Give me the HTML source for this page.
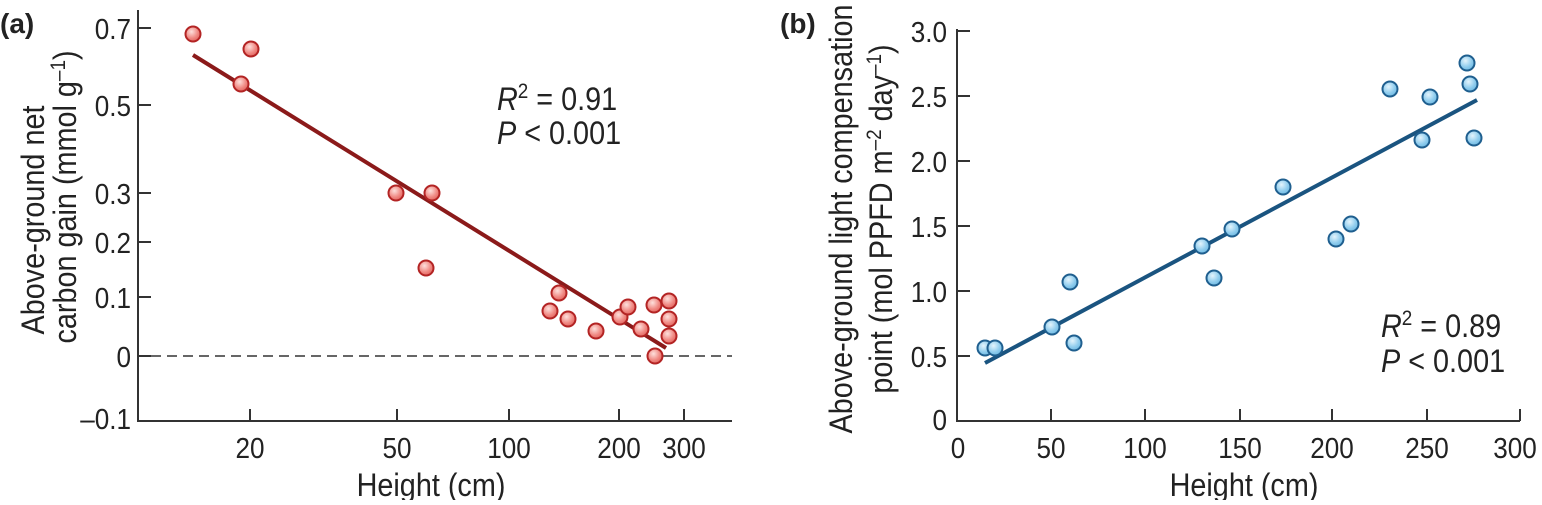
<!DOCTYPE html>
<html><head><meta charset="utf-8"><style>
html,body{margin:0;padding:0;background:#fff;}
svg text{font-family:"Liberation Sans",Arial,sans-serif;fill:#222;}
</style></head><body>
<svg width="1542" height="500" viewBox="0 0 1542 500" xmlns="http://www.w3.org/2000/svg">
<defs>
<radialGradient id="rg" cx="0.4" cy="0.35" r="0.7"><stop offset="0" stop-color="#fde0dc"/><stop offset="0.6" stop-color="#f08a84"/><stop offset="1" stop-color="#e0605a"/></radialGradient>
<radialGradient id="bg" cx="0.4" cy="0.35" r="0.7"><stop offset="0" stop-color="#e4f4fc"/><stop offset="0.6" stop-color="#90cdee"/><stop offset="1" stop-color="#6ab6e0"/></radialGradient>
</defs>
<!-- Panel a -->
<text x="0" y="33" font-size="28" font-weight="bold">(a)</text>
<g stroke="#333" stroke-width="2" fill="none">
<path d="M138 10 V421 H732"/>
<path d="M138 28 H151 M138 105 H151 M138 193 H151 M138 242 H151 M138 297 H151 M138 356 H151"/>
<path d="M250 421 V409 M397 421 V409 M509 421 V409 M619 421 V409 M684 421 V409"/>
</g>
<line x1="151" y1="356" x2="732" y2="356" stroke="#333" stroke-width="1.5" stroke-dasharray="10,6"/>
<g font-size="29" text-anchor="end">
<text transform="translate(131,39) scale(0.9,1)">0.7</text>
<text transform="translate(131,116) scale(0.9,1)">0.5</text>
<text transform="translate(131,204) scale(0.9,1)">0.3</text>
<text transform="translate(131,253) scale(0.9,1)">0.2</text>
<text transform="translate(131,308) scale(0.9,1)">0.1</text>
<text transform="translate(131,367) scale(0.9,1)">0</text>
<text transform="translate(131,429) scale(0.9,1)">–0.1</text>
</g>
<g font-size="29" text-anchor="middle">
<text transform="translate(250,458) scale(0.9,1)">20</text>
<text transform="translate(397,458) scale(0.9,1)">50</text>
<text transform="translate(509,458) scale(0.9,1)">100</text>
<text transform="translate(619,458) scale(0.9,1)">200</text>
<text transform="translate(684,458) scale(0.9,1)">300</text>
</g>
<text font-size="32" text-anchor="middle" transform="translate(431,496) scale(0.9,1)">Height (cm)</text>
<g font-size="32" text-anchor="middle">
<text transform="translate(44,220) rotate(-90) scale(0.9,1)">Above-ground net</text>
<text transform="translate(76,197) rotate(-90) scale(0.9,1)">carbon gain (mmol g<tspan dy="-11" font-size="21">–1</tspan><tspan dy="11">)</tspan></text>
</g>
<g font-size="32">
<text transform="translate(497,110) scale(0.9,1)"><tspan font-style="italic">R</tspan><tspan dy="-12" font-size="21">2</tspan><tspan dy="12"> = 0.91</tspan></text>
<text transform="translate(497,144) scale(0.9,1)"><tspan font-style="italic">P</tspan> &lt; 0.001</text>
</g>
<line x1="193" y1="55" x2="666" y2="348" stroke="#8b1a1a" stroke-width="4"/>
<g fill="url(#rg)" stroke="#b32424" stroke-width="2">
<circle cx="193" cy="34" r="7.5"/><circle cx="251" cy="49" r="7.5"/><circle cx="241" cy="84" r="7.5"/>
<circle cx="396" cy="193" r="7.5"/><circle cx="432" cy="193" r="7.5"/><circle cx="426" cy="268" r="7.5"/>
<circle cx="550" cy="311" r="7.5"/><circle cx="559" cy="293" r="7.5"/><circle cx="568" cy="319" r="7.5"/>
<circle cx="596" cy="331" r="7.5"/><circle cx="620" cy="317" r="7.5"/><circle cx="628" cy="307" r="7.5"/>
<circle cx="641" cy="329" r="7.5"/><circle cx="654" cy="305" r="7.5"/><circle cx="655" cy="356" r="7.5"/>
<circle cx="669" cy="301" r="7.5"/><circle cx="669" cy="319" r="7.5"/><circle cx="669" cy="336" r="7.5"/>
</g>
<!-- Panel b -->
<text x="780" y="33" font-size="28" font-weight="bold">(b)</text>
<g stroke="#333" stroke-width="2" fill="none">
<path d="M957 29 V421 H1520"/>
<path d="M957 31 H970 M957 96 H970 M957 161 H970 M957 226 H970 M957 291 H970 M957 356 H970"/>
<path d="M1051 421 V409 M1145 421 V409 M1240 421 V409 M1332 421 V409 M1427 421 V409 M1520 421 V409"/>
</g>
<g font-size="29" text-anchor="end">
<text transform="translate(947,42) scale(0.9,1)">3.0</text>
<text transform="translate(947,107) scale(0.9,1)">2.5</text>
<text transform="translate(947,172) scale(0.9,1)">2.0</text>
<text transform="translate(947,237) scale(0.9,1)">1.5</text>
<text transform="translate(947,302) scale(0.9,1)">1.0</text>
<text transform="translate(947,367) scale(0.9,1)">0.5</text>
<text transform="translate(947,430) scale(0.9,1)">0</text>
</g>
<g font-size="29" text-anchor="middle">
<text transform="translate(958,458) scale(0.9,1)">0</text>
<text transform="translate(1051,458) scale(0.9,1)">50</text>
<text transform="translate(1145,458) scale(0.9,1)">100</text>
<text transform="translate(1240,458) scale(0.9,1)">150</text>
<text transform="translate(1332,458) scale(0.9,1)">200</text>
<text transform="translate(1427,458) scale(0.9,1)">250</text>
<text transform="translate(1515,458) scale(0.9,1)">300</text>
</g>
<text font-size="32" text-anchor="middle" transform="translate(1244,496) scale(0.9,1)">Height (cm)</text>
<g font-size="32" text-anchor="middle">
<text transform="translate(852,219) rotate(-90) scale(0.9,1)">Above-ground light compensation</text>
<text transform="translate(892,219) rotate(-90) scale(0.9,1)">point (mol PPFD m<tspan dy="-11" font-size="21">–2</tspan><tspan dy="11"> day</tspan><tspan dy="-11" font-size="21">–1</tspan><tspan dy="11">)</tspan></text>
</g>
<g font-size="32">
<text transform="translate(1381,337) scale(0.9,1)"><tspan font-style="italic">R</tspan><tspan dy="-12" font-size="21">2</tspan><tspan dy="12"> = 0.89</tspan></text>
<text transform="translate(1381,372) scale(0.9,1)"><tspan font-style="italic">P</tspan> &lt; 0.001</text>
</g>
<line x1="985" y1="363" x2="1477" y2="100" stroke="#1a5480" stroke-width="4"/>
<g fill="url(#bg)" stroke="#1f5f8f" stroke-width="2">
<circle cx="985" cy="348" r="7.5"/><circle cx="995" cy="348" r="7.5"/><circle cx="1052" cy="327" r="7.5"/>
<circle cx="1070" cy="282" r="7.5"/><circle cx="1074" cy="343" r="7.5"/><circle cx="1202" cy="246" r="7.5"/>
<circle cx="1214" cy="278" r="7.5"/><circle cx="1232" cy="229" r="7.5"/><circle cx="1283" cy="187" r="7.5"/>
<circle cx="1336" cy="239" r="7.5"/><circle cx="1351" cy="224" r="7.5"/><circle cx="1390" cy="89" r="7.5"/>
<circle cx="1422" cy="140" r="7.5"/><circle cx="1430" cy="97" r="7.5"/><circle cx="1467" cy="63" r="7.5"/>
<circle cx="1470" cy="84" r="7.5"/><circle cx="1474" cy="138" r="7.5"/>
</g>
</svg>
</body></html>
